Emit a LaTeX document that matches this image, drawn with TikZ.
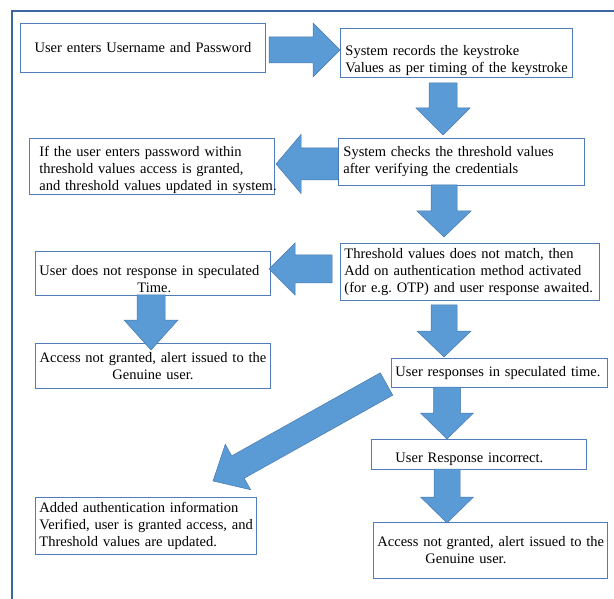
\documentclass[tikz,border=0pt]{standalone}
\usepackage{fontspec}
\setmainfont{Liberation Serif}
\usetikzlibrary{calc}
\definecolor{framec}{RGB}{62,102,160}
\definecolor{boxc}{RGB}{80,125,185}
\definecolor{arrfill}{RGB}{91,155,213}
\definecolor{arrdraw}{RGB}{70,120,175}
% block arrow: start, tip, shaft half width, head half width, head length
\newcommand\blockarrow[5]{%
  \coordinate (ba-h) at ($(#2)!#5!(#1)$);
  \filldraw[arr] ($(#1)!#3!90:(#2)$) -- ($(ba-h)!#3!90:(#2)$) -- ($(ba-h)!#4!90:(#2)$)
    -- (#2) -- ($(ba-h)!#4!-90:(#2)$) -- ($(ba-h)!#3!-90:(#2)$) -- ($(#1)!#3!-90:(#2)$) -- cycle;
}
\newcommand\tline[1]{\mbox{#1}}
\newcommand\lift[1]{\rule{0pt}{#1}}
\begin{document}
\frenchspacing
\begin{tikzpicture}[x=1pt,y=-1pt,
  box/.style={draw=boxc,line width=0.9pt,fill=white,inner ysep=0pt,anchor=north west,
    font=\fontsize{14.5}{17}\selectfont\frenchspacing},
  arr/.style={fill=arrfill,draw=arrdraw,line width=0.5pt}]
\useasboundingbox (0,0) rectangle (614,599);
\clip (0,0) rectangle (614,599);
% outer frame
\draw[framec,line width=2.6pt] (12,11) rectangle (660,660);

% boxes
\node[box,text width=235pt,inner xsep=5pt,minimum height=49pt,align=center] (b1) at (20,23)
  {\tline{User enters Username and Password}};
\node[box,text width=222pt,inner xsep=5pt,minimum height=49pt,align=left] (b2) at (340,28)
  {\tline{\lift{26pt}System records the keystroke}\\\tline{Values as per timing of the keystroke}};
\node[box,text width=236pt,inner xsep=5pt,minimum height=47pt,align=left] (b3) at (338,138)
  {\tline{System checks the threshold values}\\\tline{after verifying the credentials}};
\node[box,text width=225pt,inner xsep=10pt,minimum height=56pt,align=left] (b4) at (29,138)
  {\tline{\lift{18pt}If the user enters password within}\\\tline{threshold values access is granted,}\\\tline{and threshold values updated in system.}};
\node[box,text width=251pt,inner xsep=4pt,minimum height=57pt,align=left] (b5) at (340,243)
  {\tline{Threshold values does not match, then}\\\tline{Add on authentication method activated}\\\tline{(for e.g. OTP) and user response awaited.}};
\node[box,text width=227pt,inner xsep=4pt,minimum height=44pt,align=left] (b6) at (35,251)
  {\tline{\lift{22pt}User does not response in speculated}\\\tline{\hspace*{98pt}Time.}};
\node[box,text width=227pt,inner xsep=4pt,minimum height=45pt,align=center] (b7) at (35,343)
  {\tline{Access not granted, alert issued to the}\\\tline{Genuine user.}};
\node[box,text width=208pt,inner xsep=4pt,minimum height=29pt,align=left] (b8) at (391,358)
  {\tline{User responses in speculated time.}};
\node[box,text width=167pt,inner xsep=24pt,minimum height=30pt,align=left] (b9) at (371,439)
  {\tline{\lift{20pt}User Response incorrect.}};
\node[box,text width=226pt,inner xsep=4pt,minimum height=56pt,align=left] (b10) at (373,522)
  {\tline{Access not granted, alert issued to the}\\\tline{\hspace*{48pt}Genuine user.}};
\node[box,text width=213pt,inner xsep=4pt,minimum height=57pt,align=left] (b11) at (35,497)
  {\tline{Added authentication information}\\\tline{Verified, user is granted access, and}\\\tline{Threshold values are updated.}};

% arrow end points
\coordinate (a1s) at (269,50);   \coordinate (a1e) at (340,50);
\coordinate (a2s) at (443,83);   \coordinate (a2e) at (443,135);
\coordinate (a3s) at (338,164);  \coordinate (a3e) at (276,164);
\coordinate (a4s) at (444,185);  \coordinate (a4e) at (444,237);
\coordinate (a5s) at (332,269);  \coordinate (a5e) at (269,269);
\coordinate (a6s) at (151,295);  \coordinate (a6e) at (151,350);
\coordinate (a7s) at (444,305);  \coordinate (a7e) at (444,357);
\coordinate (a8s) at (386.5,384);\coordinate (a8e) at (213,481);
\coordinate (a9s) at (447,387);  \coordinate (a9e) at (447,439);
\coordinate (a10s) at (447,469); \coordinate (a10e) at (447,523);

\blockarrow{a1s}{a1e}{13pt}{27pt}{27pt}
\blockarrow{a2s}{a2e}{14pt}{27pt}{27pt}
\blockarrow{a3s}{a3e}{16pt}{29.5pt}{25pt}
\blockarrow{a4s}{a4e}{13pt}{27pt}{26pt}
\blockarrow{a5s}{a5e}{14pt}{26pt}{26pt}
\blockarrow{a6s}{a6e}{14pt}{27pt}{30pt}
\blockarrow{a7s}{a7e}{13pt}{27pt}{26pt}
\blockarrow{a8s}{a8e}{12.8pt}{26pt}{28.6pt}
\blockarrow{a9s}{a9e}{13.5pt}{26.5pt}{26pt}
\blockarrow{a10s}{a10e}{13pt}{26.5pt}{26pt}
\end{tikzpicture}
\end{document}
